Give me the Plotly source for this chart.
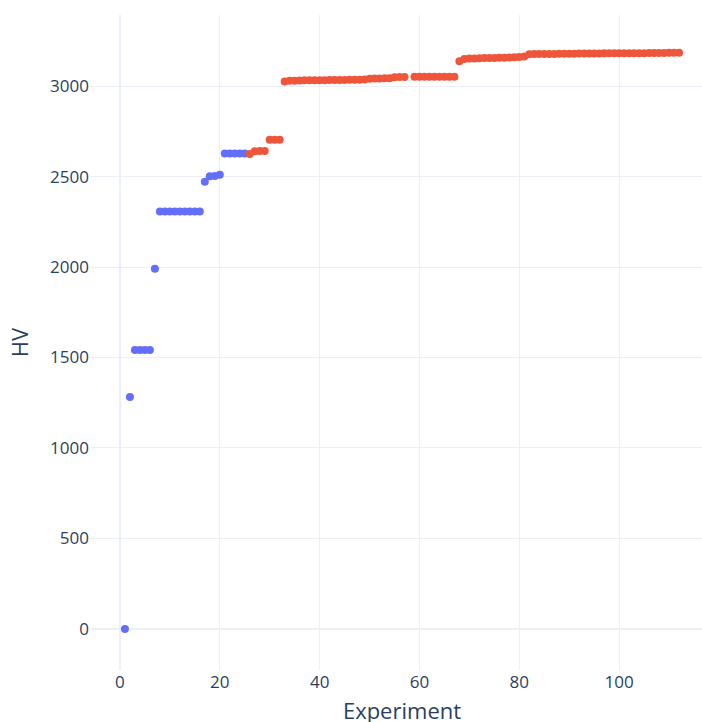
import plotly.graph_objects as go

# Initial (quasi-random) experiments
init_x = list(range(1, 26))
init_hv = [0, 1282, 1542, 1542, 1542, 1542, 1990,
           2307, 2307, 2307, 2307, 2307, 2307, 2307, 2307, 2307,
           2472, 2502, 2503, 2510,
           2628, 2628, 2628, 2628, 2628]

# Optimisation-driven experiments
opt_x = list(range(26, 58)) + list(range(59, 113))
opt_hv = [2625, 2640, 2642, 2642,
          2704, 2704, 2704,
          3025, 3029, 3030, 3031, 3032, 3032, 3033, 3033, 3033, 3034, 3034,
          3034, 3034, 3035, 3035, 3035, 3036,
          3041, 3042, 3042, 3043, 3044,
          3049, 3050, 3050,
          3052, 3052, 3052, 3052, 3052, 3052, 3052, 3052, 3052,
          3138,
          3150, 3152, 3153, 3154, 3155, 3155, 3156, 3157, 3157, 3158, 3159, 3161, 3164,
          3176, 3177, 3177, 3178, 3178, 3178, 3179, 3179, 3179, 3179, 3180, 3180,
          3180, 3180, 3180, 3181, 3181, 3181, 3181, 3181, 3182, 3182, 3182, 3182,
          3183, 3183, 3183, 3183, 3184, 3184, 3184]

fig = go.Figure()
fig.add_trace(go.Scatter(x=init_x, y=init_hv, mode="markers",
                         marker=dict(color="#636efa", size=8), name="Initial"))
fig.add_trace(go.Scatter(x=opt_x, y=opt_hv, mode="markers",
                         marker=dict(color="#EF553B", size=8), name="Optimised"))

fig.update_layout(
    template="plotly_white",
    width=716, height=725,
    showlegend=False,
    font=dict(family="Open Sans, verdana, arial, sans-serif", size=17),
    margin=dict(l=90, r=2, t=15, b=55),
    xaxis=dict(title=dict(text="Experiment", font=dict(size=22)), range=[-6, 119]),
    yaxis=dict(title=dict(text="HV", font=dict(size=22)), range=[-227, 3393]),
)

fig.write_html("out.html")
